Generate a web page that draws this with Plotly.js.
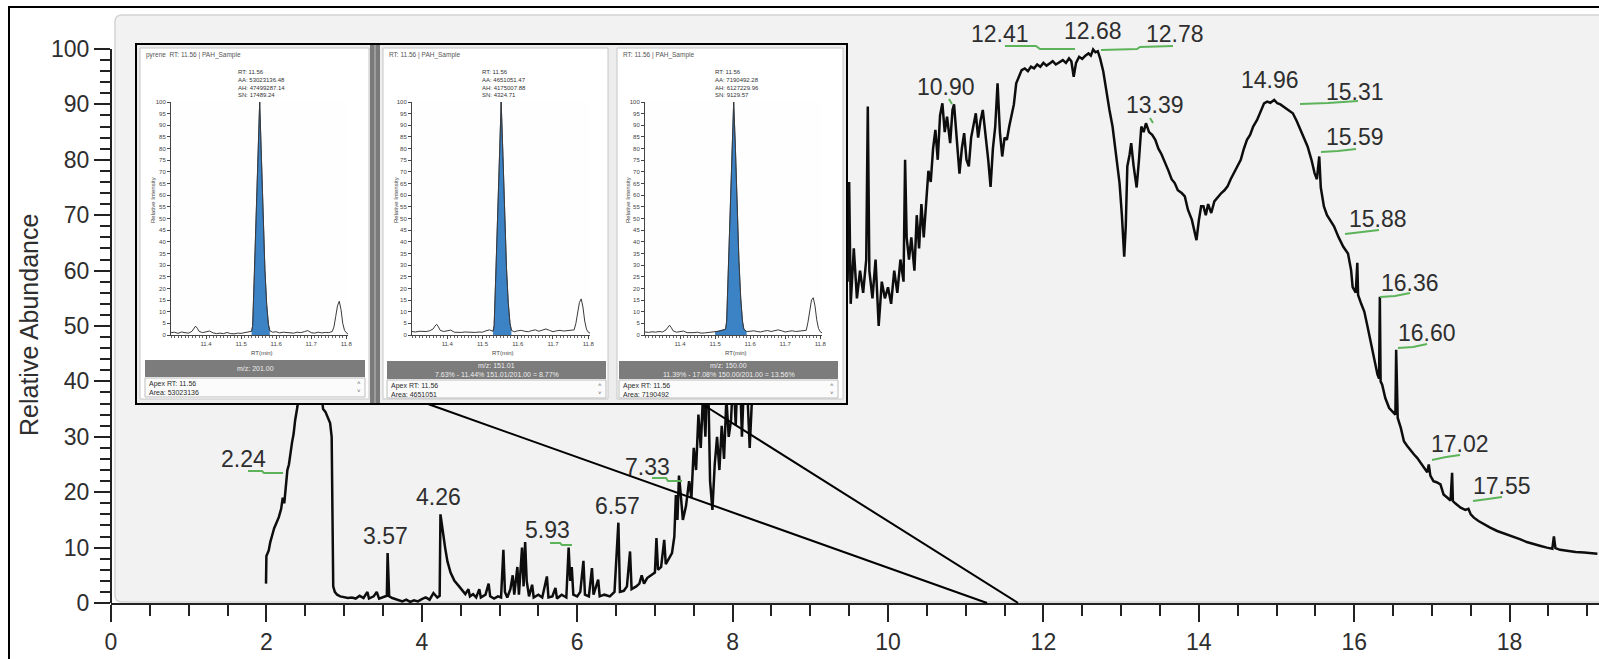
<!DOCTYPE html>
<html><head><meta charset="utf-8">
<script src="https://cdn.plot.ly/plotly-3.0.1.min.js"></script>
<style>html,body{margin:0;padding:0;background:#fff;}#chart{width:1599px;height:659px;}</style>
</head><body><div id="chart"></div>
<script>
// ---------------- DATA ----------------
const rt = [
1.995,2.00,2.03,2.05,2.08,2.10,2.13,2.16,2.19,2.21,2.23,2.25,2.27,2.29,2.31,2.33,2.35,2.37,2.40,
2.45,2.50,2.55,2.60,2.65,2.70,2.73,2.76,2.79,2.82,2.84,2.85,2.86,2.88,2.91,2.95,
3.00,3.05,3.10,3.15,3.20,3.25,3.30,3.32,3.38,3.42,3.45,3.50,3.55,3.56,3.57,3.58,3.62,3.70,3.75,3.80,3.85,3.90,3.95,
4.00,4.05,4.10,4.15,4.20,4.23,4.24,4.26,4.28,4.30,4.33,4.37,4.42,4.48,4.52,4.56,4.60,4.62,4.66,4.70,4.74,4.76,4.82,4.86,4.88,4.93,4.98,
5.02,5.05,5.07,5.10,5.14,5.17,5.19,5.23,5.25,5.29,5.31,5.33,5.35,5.38,5.42,5.44,5.50,5.55,5.61,5.63,5.68,5.72,5.74,5.80,5.86,5.89,5.91,5.93,5.95,
6.00,6.04,6.08,6.10,6.15,6.19,6.21,6.27,6.29,6.35,6.42,6.48,6.53,6.55,6.60,6.64,6.68,6.70,6.76,6.80,6.83,6.86,6.90,6.95,
7.00,7.02,7.04,7.08,7.12,7.14,7.18,7.22,7.25,7.27,7.29,7.31,7.33,7.36,7.40,7.44,7.47,7.50,7.53,7.56,7.59,7.62,7.65,7.68,7.71,7.74,7.77,7.80,7.83,7.86,7.89,7.92,7.95,7.98,
8.01,8.04,8.08,8.12,8.16,8.19,8.22,8.26,8.30,8.40,8.50,8.60,8.70,8.80,8.90,
9.00,9.10,9.20,9.30,9.40,9.45,9.48,9.50,9.52,9.56,9.60,9.64,9.68,9.72,9.74,9.76,9.80,9.84,9.88,9.92,9.96,
10.00,10.04,10.08,10.12,10.16,10.20,10.22,10.24,10.27,10.30,10.34,10.37,10.40,10.43,10.46,10.49,10.52,10.55,10.58,10.61,10.64,10.67,10.70,10.73,10.76,10.80,10.83,10.85,10.88,10.92,10.95,10.98,
11.01,11.04,11.07,11.10,11.13,11.16,11.19,11.22,11.26,11.29,11.32,11.35,11.38,11.41,11.44,11.47,11.50,11.53,11.56,11.59,11.62,11.65,11.68,11.72,11.76,11.80,11.84,11.88,11.92,11.96,
12.00,12.04,12.08,12.12,12.16,12.21,12.25,12.29,12.33,12.36,12.39,12.42,12.46,12.50,12.54,12.58,12.61,12.64,12.67,12.70,12.73,12.77,12.80,12.85,12.89,12.94,12.98,
13.01,13.04,13.06,13.08,13.11,13.13,13.16,13.20,13.23,13.26,13.29,13.32,13.36,13.40,13.44,13.48,13.52,13.57,13.61,13.65,13.69,13.73,13.78,13.82,13.86,13.91,13.94,13.97,
14.00,14.03,14.06,14.09,14.12,14.16,14.20,14.25,14.29,14.33,14.37,14.41,14.45,14.50,14.54,14.58,14.62,14.66,14.70,14.75,14.79,14.84,14.88,14.92,14.97,
15.01,15.05,15.09,15.13,15.17,15.21,15.26,15.31,15.36,15.40,15.45,15.49,15.52,15.55,15.57,15.61,15.65,15.70,15.74,15.80,15.86,15.92,15.96,15.98,
16.02,16.04,16.05,16.09,16.13,16.17,16.21,16.26,16.30,16.32,16.33,16.34,16.36,16.40,16.45,16.49,16.53,16.54,16.55,16.56,16.60,16.64,16.68,16.73,16.77,16.81,16.86,16.90,16.94,16.96,16.98,
17.02,17.06,17.11,17.15,17.20,17.24,17.26,17.27,17.30,17.37,17.43,17.47,17.50,17.54,17.60,17.67,17.75,17.84,17.97,
18.05,18.14,18.22,18.31,18.40,18.48,18.55,18.57,18.59,18.65,18.74,18.85,18.96,19.05,19.13
];
const abundance = [
3.5,8.5,9.5,11,12.5,13.5,14.5,15.5,17,19,18,21.5,24,25,27.5,29,30.5,33,35.5,
42,46,48,47,44,38.5,35,34.5,33.5,32.5,30,17,3,2,1.5,1.2,
1.0,0.9,1.0,0.8,1.3,0.9,2.0,0.8,1.2,2.0,0.8,1.0,1.3,9.0,4.0,1.2,0.9,0.6,0.3,0.6,0.2,0.5,0.3,
0.7,1.0,0.6,1.8,1.0,1.3,16,13.5,12,10,7.5,5.5,4,3,2.2,1.6,2.5,1.2,1.6,1.0,2.5,1.0,1.5,3.5,1.2,0.8,1.2,
1.0,9.6,2,1.0,2.5,5.0,1.5,6.5,1.5,10,3,11,4,1.2,3.3,1.0,1.5,1.0,4.8,1.0,1.2,2.7,0.8,1.5,1.0,10,4,6.5,1.5,
1.2,2,7.6,1.5,1.2,6.3,1.5,4.2,1.2,1.5,1.2,2.0,14.5,2,2.2,3,9.3,2.5,3,3.5,5,3.5,4.5,5,
5.5,11.7,6,6.5,11.4,7,8,9,12,19.5,15,23,20,15,17.5,22,19,28,24,34,28,38,30,45,22,16.8,25,30,24,32,26,37,30,33,
42,32,48,30,45,38,28,40,55,48,62,52,66,55,70,
58,72,60,66,58,62,58,76,54,64,55,60,56,62,89.6,60,55,62,50,58,55,
57,54,60,56,62,58,80,66,62,66,60,70,64,72,66,72,78,76,82,85.4,80,88,90.2,85,87.8,83,89,90,84,77.5,82,84.8,
80,78.8,84,86,88.4,84,87,89,84,80,75.1,82,86,93.8,85,80.6,84,83.6,86,87.8,90,93.8,95,96.2,96.5,96,96.8,96.5,97.2,96.8,
97.5,97,97.4,97.8,97.2,97.7,98,97.5,98.3,97.8,95,97.5,98.6,98.2,98.8,99.2,98.8,99.9,99.4,99.6,98.3,96,93.2,89,86,80,75.8,
70,62.5,68,78.8,81,83,79,75,80,86,85,86.6,85,84.5,83.6,82,81,79.4,78,76.5,75.8,74.5,74,73.4,71,69.2,67,65.5,
69,71.6,71.6,70,72,70.4,72.5,73.4,74,74.5,75.2,76.5,77.5,78.8,80,82,83.6,84.5,86,87.2,88.5,90.2,90.5,90.3,90.8,
90.2,90,89.6,89.2,88.8,88.4,87,85.4,84,82.4,80,77.6,76.5,80.6,75,71.6,70,69,68,66,64.3,63.1,60.1,57,
56,61.4,55.6,54,52.6,50,47.2,43.6,41.2,40.5,55.3,40,39.4,37,35.2,34.6,34,45.7,35,33.4,31.6,29.2,28.4,27.4,26.8,26.2,25.2,24.4,23.6,25,23,
22,21.8,21.4,19.6,19,18.5,23.5,18.4,18,17.2,16.8,17,16,15.4,14.8,14.2,13.6,13,12.4,
12,11.5,11,10.6,10.3,10,9.8,12.0,9.9,9.6,9.4,9.2,9.1,9,8.9
];
const yTickVals = [0,10,20,30,40,50,60,70,80,90,100];
const peakLabels = ['2.24','3.57','4.26','5.93','6.57','7.33','10.90','12.41','12.68','12.78','13.39','14.96','15.31','15.59','15.88','16.36','16.60','17.02','17.55'];

// inset (extracted ion chromatograms, RT 11.30-11.80 min)
const miniRT = [11.300,11.310,11.320,11.330,11.340,11.350,11.360,11.365,11.370,11.375,
11.380,11.390,11.400,11.410,11.420,11.430,11.440,11.450,11.460,11.470,11.480,11.490,11.500,11.510,11.520,11.530,
11.533,11.538,11.543,11.548,11.553,11.558,11.563,11.568,11.573,11.578,11.582,
11.590,11.600,11.610,11.620,11.630,11.640,11.650,11.660,11.670,11.680,11.690,11.700,11.710,11.720,11.730,11.740,11.750,11.760,
11.765,11.770,11.775,11.780,11.785,11.790,11.795,11.800,11.805];
const miniTickVals = [11.4,11.5,11.6,11.7,11.8];
const int201 = [1.0,1.2,0.7,1.3,1.0,0.8,1.6,2.8,3.8,2.9,
1.6,1.0,1.4,1.7,0.9,0.6,0.8,0.6,1.1,0.6,0.5,0.8,0.7,1.0,1.3,1.6,
4,26,52,78,100,76,50,28,13,4.5,1.8,
1.2,1.4,0.9,1.2,1.0,1.1,0.8,1.2,1.0,1.4,1.9,1.0,0.8,1.2,0.9,1.1,1.0,1.5,
3.5,8.0,12.5,14.5,11.0,5.0,2.0,1.0,0.4];
const int151 = [1.5,1.3,1.6,1.4,1.5,1.8,2.6,3.8,4.6,3.5,
2.0,1.5,1.8,2.1,1.2,1.0,1.1,1.3,1.2,1.0,1.1,1.3,1.2,1.8,2.2,1.6,
4,27,53,79,100,77,51,29,14,5,2.0,
1.4,1.8,2.0,1.6,1.4,1.9,2.2,1.6,2.0,2.6,2.0,1.4,1.8,2.0,1.7,1.9,2.0,2.2,
5.0,10,14,15.5,12,6.0,2.5,1.2,0.8];
const int150 = [1.3,1.1,1.4,1.2,1.5,1.3,2.2,3.5,4.2,3.2,
1.8,1.2,1.5,1.7,1.0,0.9,1.0,1.2,0.8,0.9,1.0,1.2,1.3,1.6,2.0,2.5,
6,30,56,80,100,80,55,32,16,6,2.5,
1.5,1.6,1.8,1.5,1.3,1.7,1.9,1.5,1.8,2.2,1.8,1.3,1.6,1.8,1.5,1.7,1.8,2.0,
5.5,11,15,16,12.5,6.5,2.8,1.4,0.9];
const panelTitles = ['pyrene  RT: 11.56 | PAH_Sample','RT: 11.56 | PAH_Sample','RT: 11.56 | PAH_Sample'];
const peakInfo = [
  ['RT: 11.56','AA: 53023136.48','AH: 47499287.14','SN: 17489.24'],
  ['RT: 11.56','AA: 4651051.47','AH: 4175007.88','SN: 4324.71'],
  ['RT: 11.56','AA: 7190492.28','AH: 6127229.96','SN: 9129.57']];
const mzLabels = ['m/z: 201.00','m/z: 151.01','m/z: 150.00'];
const ratioLabels = ['','7.63% - 11.44% 151.01/201.00 = 8.77%','11.39% - 17.08% 150.00/201.00 = 13.56%'];
const apexRT = ['11.56','11.56','11.56'];
const areas = ['53023136','4651051','7190492'];

// ---------------- GEOMETRY / STYLE ----------------
const FONT = 'Liberation Sans, Arial, sans-serif';
const L = 111, T = 15, B = 603, WIDTH = 1599, HEIGHT = 659;
const PW = WIDTH - L, PH = B - T;
const X_PER = 77.7, Y_PER = 5.54;
const xMax = PW / X_PER, yMax = PH / Y_PER;
const X = px => (px - L) / PW;
const Y = py => (B - py) / PH;

const labelPos = [[243,459],[385,536],[438,497],[547,530],[617,506],[647,467],[946,87],[1000,34],[1093,31],[1175,34],[1155,105],[1270,80],[1355,92],[1355,137],[1378,219],[1410,283],[1427,333],[1460,444],[1502,486]];
const greenMarks = [
 [[248,471],[262,471],[264,473],[283,473]],
 [[550,543],[560,543],[562,545],[572,545]],
 [[652,478],[666,478],[668,481],[682,481]],
 [[949,99],[952,104]],
 [[1005,46],[1036,46],[1040,49],[1075,49]],
 [[1101,50],[1137,49],[1140,47],[1173,46]],
 [[1150,118],[1153,123]],
 [[1300,104],[1328,103],[1358,101]],
 [[1321,152],[1338,151],[1356,149]],
 [[1345,234],[1362,232],[1379,230]],
 [[1380,297],[1395,296],[1410,293]],
 [[1398,348],[1413,347],[1427,344]],
 [[1432,460],[1446,457],[1460,455]],
 [[1473,501],[1488,499],[1502,497]]];

const panels = [
  {x0:171, x1:348, box:[140,48,369,399], bar:[145,360,365,377], info:[145,378,365,397], fill:[11.53,11.582], ytitle:153, title:145, infoX:237},
  {x0:412, x1:590, box:[383,48,608,399], bar:[387,361,606,379], info:[387,380,606,398], fill:[11.53,11.582], ytitle:396, title:388, infoX:481},
  {x0:645, x1:822, box:[617,48,843,399], bar:[619,361,838,379], info:[619,380,838,398], fill:[11.50,11.59], ytitle:628, title:622, infoX:714}];
const miniTop = 102, miniBot = 335;

const shapes = [];
const annotations = [];
function pRect(r, opts){ shapes.push(Object.assign({type:'rect', xref:'paper', yref:'paper', x0:X(r[0]), y0:Y(r[3]), x1:X(r[2]), y1:Y(r[1]), layer:'above'}, opts)); }
function pPath(pts, color, width){ shapes.push({type:'path', xref:'paper', yref:'paper', layer:'above', path: pts.map((p,i)=>(i?'L':'M')+X(p[0]).toFixed(5)+','+Y(p[1]).toFixed(5)).join(' '), line:{color:color, width:width}}); }
function cRect(r, opts){ shapes.push(Object.assign({type:'rect', xref:'x2', yref:'y2', x0:r[0], y0:r[1], x1:r[2], y1:r[3], layer:'below'}, opts)); }
function txt(px, py, text, size, color, opts){ annotations.push(Object.assign({xref:'paper', yref:'paper', x:X(px), y:Y(py), text:text, showarrow:false, font:{family:FONT, size:size, color:color}, xanchor:'center', yanchor:'middle', borderpad:0}, opts||{})); }

// main gray plotting background (rounded at left)
(function(){
  const x0=115,y0=15,x1=1640,y1=602,r=7;
  const f = (a,b)=>X(a).toFixed(5)+','+Y(b).toFixed(5);
  shapes.push({type:'path', xref:'paper', yref:'paper', layer:'below',
    path:`M ${f(x0,y1-r)} L ${f(x0,y0+r)} Q ${f(x0,y0)} ${f(x0+r,y0)} L ${f(x1,y0)} L ${f(x1,y1)} L ${f(x0+r,y1)} Q ${f(x0,y1)} ${f(x0,y1-r)} Z`,
    fillcolor:'#f2f2f2', line:{color:'#d4d4d4', width:1.5}});
})();

// inset background structure (on the cover subplot, below mini plots)
cRect([136,43,848,405], {fillcolor:'#ededed', line:{width:0}});
panels.forEach(p=>cRect(p.box, {fillcolor:'#ffffff', line:{color:'#c6c6c6', width:1}}));
cRect([370,44,380,404], {fillcolor:'#7a7a7a', line:{width:0}});
cRect([374,44,376,404], {fillcolor:'#9c9c9c', line:{width:0}});

// inset bars, info boxes, texts
panels.forEach((p,i)=>{
  pRect(p.bar, {fillcolor:'#7c7c7c', line:{width:0}});
  pRect(p.info, {fillcolor:'#fbfbfb', line:{color:'#bdbdbd', width:1}});
  const cx = (p.bar[0]+p.bar[2])/2;
  if (ratioLabels[i]) {
    txt(cx, p.bar[1]+5, mzLabels[i], 7, '#ececec');
    txt(cx, p.bar[1]+13.5, ratioLabels[i], 7, '#ececec');
  } else {
    txt(cx, (p.bar[1]+p.bar[3])/2, mzLabels[i], 7, '#ececec');
  }
  txt(p.info[0]+3, p.info[1]+1, 'Apex RT: '+apexRT[i]+'<br>Area: '+areas[i], 7, '#2a2a2a', {xanchor:'left', yanchor:'top', align:'left'});
  txt(p.info[2]-6, p.info[1]+5, '˄', 6, '#555');
  txt(p.info[2]-6, p.info[1]+13, '˅', 6, '#555');
  txt(p.title, 55, panelTitles[i], 6.5, '#555', {xanchor:'left'});
  txt(p.infoX, 68, peakInfo[i].join('<br>'), 6, '#333', {xanchor:'left', yanchor:'top', align:'left'});
  txt(p.ytitle, 200, 'Relative Intensity', 6, '#444', {textangle:-90});
  txt((p.x0+p.x1)/2+2, 353, 'RT(min)', 6, '#444');
});
pRect([136,44,847,404], {fillcolor:'rgba(0,0,0,0)', line:{color:'#000', width:2}});

// zoom pointer lines
pPath([[428,404],[987,603]], '#000', 2);
pPath([[702,404],[1018,603]], '#000', 2);

// outer frame
pRect([9,7,1640,700], {fillcolor:'rgba(0,0,0,0)', line:{color:'#000', width:2}});
// main y axis line (0-100)
shapes.push({type:'line', xref:'paper', yref:'paper', layer:'above', x0:0, x1:0, y0:0, y1:100/yMax, line:{color:'#222', width:2}});

// peak label markers and labels
greenMarks.forEach(m=>pPath(m, '#5db35a', 2));
peakLabels.forEach((s,i)=>txt(labelPos[i][0], labelPos[i][1], s, 23, '#2e2e2e'));

// axis title
txt(29, 325, 'Relative Abundance', 25, '#2e2e2e', {textangle:-90});

// ---------------- TRACES ----------------
const traces = [
  {x: rt, y: abundance, type:'scatter', mode:'lines', line:{color:'#0d0d0d', width:2.5}, xaxis:'x', yaxis:'y', hoverinfo:'skip'},
  {x:[null], y:[null], type:'scatter', mode:'lines', xaxis:'x2', yaxis:'y2', hoverinfo:'skip'}
];
const panelSeries = [int201, int151, int150];
const layout = {
  width: WIDTH, height: HEIGHT, autosize:false,
  margin:{l:L, r:0, t:T, b:HEIGHT-B, pad:0},
  paper_bgcolor:'#ffffff', plot_bgcolor:'#fefefe',
  showlegend:false, hovermode:false, dragmode:false,
  font:{family:FONT, color:'#333'},
  xaxis:{domain:[0,1], range:[0,xMax], anchor:'y', tickmode:'linear', tick0:0, dtick:2,
    ticks:'outside', ticklen:17, tickwidth:2, tickcolor:'#222', showline:true, linecolor:'#222', linewidth:2,
    showgrid:false, zeroline:false, tickfont:{family:FONT, size:23, color:'#2e2e2e'},
    minor:{dtick:0.5, tick0:0, ticks:'outside', ticklen:11, tickwidth:2, tickcolor:'#222', showgrid:false}},
  yaxis:{domain:[0,1], range:[0,yMax], anchor:'x', tickmode:'array', tickvals:yTickVals,
    ticks:'outside', ticklen:16, tickwidth:2, tickcolor:'#222', showline:false,
    showgrid:false, zeroline:false, tickfont:{family:FONT, size:23, color:'#2e2e2e'},
    minor:{tickmode:'array', tickvals:Array.from({length:51},(_,k)=>2*k), ticks:'outside', ticklen:10, tickwidth:2, tickcolor:'#222', showgrid:false}},
  xaxis2:{domain:[X(136), X(848)], range:[136,848], anchor:'y2', visible:false, fixedrange:true},
  yaxis2:{domain:[Y(405), Y(43)], range:[405,43], anchor:'x2', visible:false, fixedrange:true},
  shapes: shapes, annotations: annotations
};
panels.forEach((p,i)=>{
  const n = i+3;
  const ys = panelSeries[i];
  const fx=[], fy=[];
  miniRT.forEach((t,j)=>{ if(t>=p.fill[0]-1e-9 && t<=p.fill[1]+1e-9){ fx.push(t); fy.push(ys[j]); } });
  traces.push({x:fx, y:fy, type:'scatter', mode:'lines', fill:'tozeroy', fillcolor:'#3c83c6', line:{color:'#22456e', width:0.8}, xaxis:'x'+n, yaxis:'y'+n, hoverinfo:'skip'});
  traces.push({x:miniRT, y:ys, type:'scatter', mode:'lines', line:{color:'#3a3a3a', width:1}, xaxis:'x'+n, yaxis:'y'+n, hoverinfo:'skip'});
  layout['xaxis'+n] = {domain:[X(p.x0), X(p.x1)], range:[11.30,11.805], anchor:'y'+n, tickmode:'array', tickvals:miniTickVals,
    ticks:'outside', ticklen:3, tickwidth:1, tickcolor:'#444', showline:true, linecolor:'#444', linewidth:1,
    showgrid:false, zeroline:false, tickfont:{family:FONT, size:6, color:'#444'},
    minor:{dtick:0.01, tick0:11.3, ticks:'outside', ticklen:1.5, tickwidth:1, tickcolor:'#666', showgrid:false}};
  layout['yaxis'+n] = {domain:[Y(miniBot), Y(miniTop)], range:[0,100], anchor:'x'+n, tickmode:'linear', tick0:0, dtick:5,
    ticks:'outside', ticklen:3, tickwidth:1, tickcolor:'#444', showline:true, linecolor:'#444', linewidth:1,
    showgrid:false, zeroline:false, tickfont:{family:FONT, size:6, color:'#444'}};
});

Plotly.newPlot('chart', traces, layout, {staticPlot:true, displayModeBar:false});
</script>
</body></html>
